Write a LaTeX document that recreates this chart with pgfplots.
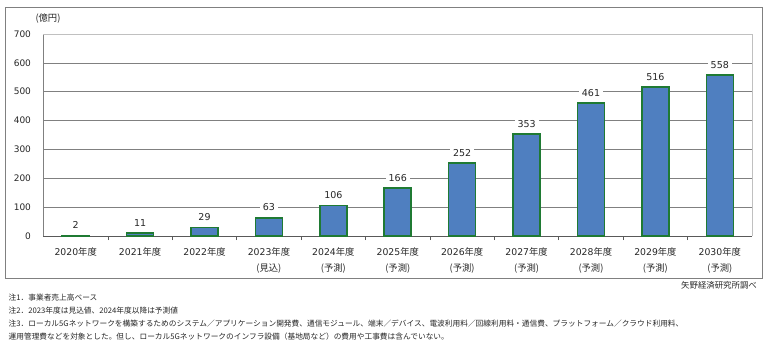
\documentclass[border=0pt]{standalone}
\usepackage{pgfplots}
\pgfplotsset{compat=1.18}
\usepackage{fontspec}
\setmainfont{DejaVu Sans}
\newfontfamily\cjk{Noto Sans CJK JP}
\definecolor{barblue}{HTML}{4F7FC0}
\definecolor{baredge}{HTML}{1F7A33}
\definecolor{gridgray}{HTML}{808080}
\definecolor{bordergray}{HTML}{C0C0C0}
\newcommand{\nd}[1]{#1{\cjk 年度}}
\newcommand{\yo}{{\cjk (予測)}}
\begin{document}
\begin{tikzpicture}
\useasboundingbox (-43.5pt,-115pt) rectangle (724.5pt,236pt);
\draw[gridgray, line width=0.8pt] (-38.5pt,229pt) rectangle (718.5pt,-42pt);
\begin{axis}[
  at={(0pt,0pt)}, anchor=south west,
  scale only axis, width=708.5pt, height=202pt,
  xmin=-0.5, xmax=10.5, ymin=0, ymax=700,
  ybar, bar width=27pt,
  axis lines*=left,
  x axis line style={draw=gray!70!black, line width=0.8pt},
  y axis line style={draw=gridgray, line width=0.6pt},
  ytick={0,100,...,700},
  ymajorgrids, major grid style={draw=gridgray, line width=0.6pt},
  ytick style={draw=none},
  xtick={0,...,10},
  xtick style={draw=none},
  extra x ticks={0.5,1.5,...,9.5},
  extra x tick labels={},
  extra x tick style={xtick style={draw=gray!70!black, line width=0.6pt}, tick align=outside, major tick length=4pt, grid=none},
  xticklabels={\nd{2020},\nd{2021},\nd{2022},{\nd{2023}\\{\cjk (見込)}},{\nd{2024}\\\yo},{\nd{2025}\\\yo},{\nd{2026}\\\yo},{\nd{2027}\\\yo},{\nd{2028}\\\yo},{\nd{2029}\\\yo},{\nd{2030}\\\yo}},
  xticklabel style={align=center, font=\fontsize{9.3}{16}\selectfont, text=black!85, yshift=-4pt},
  yticklabel style={font=\fontsize{9}{11}\selectfont, text=black!85, xshift=-9pt},
  /pgf/number format/assume math mode=true,
  nodes near coords,
  every node near coord/.append style={fill=white, inner xsep=3pt, inner ysep=3.5pt, anchor=south, yshift=2.5pt, font=\fontsize{9.5}{11}\selectfont, text=black!85},
  clip=false,
]
\addplot[fill=barblue, draw=baredge, line width=1.6pt] coordinates {
(0,2) (1,11) (2,29) (3,63) (4,106) (5,166) (6,252) (7,353) (8,461) (9,516) (10,558)};
\draw[bordergray, line width=0.8pt] (axis cs:-0.5,700) -- (axis cs:10.5,700) -- (axis cs:10.5,0);
\end{axis}
\node[font=\fontsize{9.3}{11}\selectfont\cjk, text=black!85] at (4.5pt,217pt) {(億円)};
\node[anchor=east, font=\fontsize{8.4}{10}\selectfont\cjk, text=black!85, inner sep=0pt] at (713.5pt,-49pt) {矢野経済研究所調べ};
\begin{scope}[every node/.style={anchor=west, inner sep=0pt, font=\fontsize{7.7}{9}\selectfont\cjk, text=black!85}]
\node at (-35pt,-62pt) {注1．事業者売上高ベース};
\node at (-35pt,-75pt) {注2．2023年度は見込値、2024年度以降は予測値};
\node at (-35pt,-88pt) {注3．ローカル5Gネットワークを構築するためのシステム／アプリケーション開発費、通信モジュール、端末／デバイス、電波利用料／回線利用料・通信費、プラットフォーム／クラウド利用料、};
\node at (-35pt,-101pt) {運用管理費などを対象とした。但し、ローカル5Gネットワークのインフラ設備（基地局など）の費用や工事費は含んでいない。};
\end{scope}
\end{tikzpicture}
\end{document}
